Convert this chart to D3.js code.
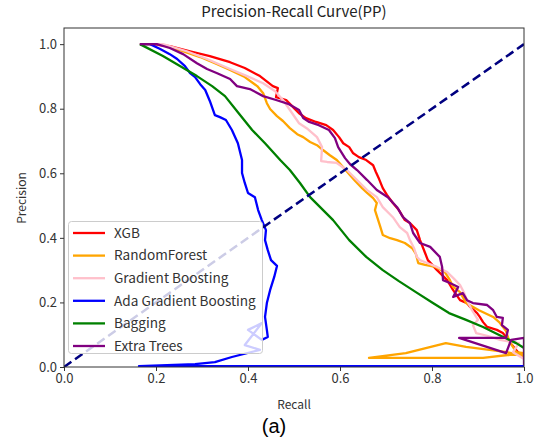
<!DOCTYPE html>
<html><head><meta charset="utf-8">
<script src="https://cdn.jsdelivr.net/npm/d3@7"></script>
<style>body{margin:0;background:#fff}svg{display:block}</style>
</head><body>
<script>
const seriesNames = ["XGB","RandomForest","Gradient Boosting","Ada Gradient Boosting","Bagging","Extra Trees"];
const seriesColors = ["red","orange","pink","blue","green","purple"];
const xTicks = [0,0.2,0.4,0.6,0.8,1.0];
const yTicks = [0,0.2,0.4,0.6,0.8,1.0];

const xgb = [[0.165,1.0],[0.187,1.0],[0.230,0.994],[0.274,0.978],[0.317,0.963],[0.361,0.944],[0.393,0.926],[0.426,0.901],[0.454,0.870],[0.465,0.864],[0.461,0.836],[0.483,0.827],[0.498,0.805],[0.511,0.786],[0.526,0.771],[0.548,0.759],[0.570,0.749],[0.585,0.734],[0.598,0.712],[0.607,0.693],[0.620,0.681],[0.628,0.663],[0.641,0.650],[0.657,0.641],[0.672,0.625],[0.678,0.604],[0.685,0.582],[0.693,0.554],[0.702,0.533],[0.715,0.508],[0.728,0.486],[0.741,0.455],[0.752,0.446],[0.767,0.424],[0.774,0.393],[0.785,0.353],[0.791,0.331],[0.811,0.300],[0.833,0.269],[0.846,0.238],[0.861,0.207],[0.876,0.198],[0.883,0.186],[0.898,0.167],[0.904,0.155],[0.911,0.139],[0.920,0.124],[0.941,0.115],[0.954,0.105],[0.963,0.090],[0.974,0.068],[0.987,0.046],[1.0,0.028]];
const randomForest = [[0.165,1.0],[0.209,1.0],[0.252,0.981],[0.296,0.960],[0.328,0.941],[0.361,0.920],[0.393,0.898],[0.420,0.870],[0.433,0.848],[0.441,0.817],[0.448,0.799],[0.463,0.777],[0.476,0.762],[0.491,0.740],[0.507,0.721],[0.520,0.712],[0.535,0.697],[0.550,0.687],[0.563,0.672],[0.578,0.656],[0.593,0.641],[0.607,0.619],[0.622,0.594],[0.633,0.576],[0.648,0.554],[0.659,0.539],[0.672,0.523],[0.680,0.508],[0.676,0.486],[0.687,0.437],[0.693,0.409],[0.709,0.399],[0.724,0.393],[0.741,0.384],[0.757,0.368],[0.765,0.350],[0.770,0.322],[0.785,0.316],[0.807,0.310],[0.828,0.294],[0.839,0.269],[0.846,0.248],[0.861,0.232],[0.874,0.198],[0.902,0.176],[0.933,0.155],[0.946,0.139],[0.961,0.111],[0.967,0.084],[0.976,0.062],[0.983,0.046],[1.0,0.043],[0.911,0.028],[0.663,0.028],[0.743,0.043],[0.830,0.074],[0.874,0.062],[0.963,0.046],[1.0,0.034]];
const gradientBoosting = [[0.165,1.0],[0.215,1.0],[0.267,0.978],[0.311,0.954],[0.361,0.923],[0.398,0.901],[0.433,0.879],[0.459,0.854],[0.476,0.827],[0.496,0.786],[0.511,0.755],[0.530,0.737],[0.550,0.712],[0.561,0.681],[0.559,0.638],[0.572,0.635],[0.593,0.632],[0.615,0.610],[0.637,0.579],[0.659,0.548],[0.680,0.526],[0.693,0.495],[0.715,0.464],[0.730,0.433],[0.746,0.415],[0.752,0.393],[0.761,0.368],[0.767,0.341],[0.774,0.331],[0.789,0.322],[0.811,0.310],[0.833,0.294],[0.846,0.276],[0.861,0.254],[0.870,0.229],[0.876,0.207],[0.887,0.176],[0.900,0.146],[0.889,0.130],[0.896,0.105],[0.922,0.096],[0.948,0.084],[0.989,0.074],[0.976,0.046],[1.0,0.025]];
const adaBoost = [[0.165,1.0],[0.187,1.0],[0.209,0.985],[0.230,0.969],[0.246,0.954],[0.263,0.932],[0.274,0.910],[0.285,0.898],[0.296,0.876],[0.307,0.858],[0.317,0.824],[0.328,0.780],[0.339,0.774],[0.352,0.765],[0.365,0.734],[0.378,0.693],[0.387,0.641],[0.387,0.601],[0.393,0.570],[0.400,0.539],[0.415,0.526],[0.422,0.486],[0.430,0.455],[0.439,0.424],[0.437,0.393],[0.443,0.362],[0.450,0.331],[0.463,0.313],[0.457,0.279],[0.448,0.238],[0.441,0.198],[0.437,0.155],[0.441,0.115],[0.443,0.093],[0.430,0.084],[0.400,0.115],[0.430,0.136],[0.393,0.068],[0.426,0.053],[0.365,0.031],[0.328,0.015],[0.285,0.009],[0.163,0.003],[1.0,0.003]];
const bagging = [[0.165,1.0],[0.215,0.963],[0.252,0.932],[0.289,0.901],[0.322,0.870],[0.350,0.839],[0.378,0.789],[0.409,0.734],[0.437,0.693],[0.470,0.641],[0.491,0.610],[0.513,0.570],[0.535,0.526],[0.585,0.455],[0.620,0.393],[0.657,0.341],[0.693,0.300],[0.728,0.266],[0.765,0.232],[0.802,0.198],[0.837,0.167],[0.874,0.146],[0.911,0.124],[0.946,0.099],[0.983,0.074],[1.0,0.059]];
const extraTrees = [[0.165,1.0],[0.202,1.0],[0.230,0.988],[0.259,0.969],[0.289,0.941],[0.311,0.923],[0.333,0.910],[0.361,0.892],[0.376,0.870],[0.404,0.861],[0.433,0.839],[0.461,0.827],[0.489,0.814],[0.511,0.796],[0.520,0.771],[0.533,0.759],[0.554,0.749],[0.576,0.734],[0.589,0.709],[0.596,0.681],[0.611,0.647],[0.622,0.628],[0.637,0.610],[0.659,0.579],[0.680,0.548],[0.704,0.526],[0.724,0.495],[0.737,0.464],[0.752,0.446],[0.759,0.415],[0.774,0.384],[0.796,0.372],[0.817,0.341],[0.822,0.310],[0.824,0.269],[0.839,0.260],[0.857,0.248],[0.846,0.217],[0.867,0.229],[0.876,0.207],[0.889,0.198],[0.920,0.192],[0.933,0.176],[0.941,0.155],[0.954,0.152],[0.952,0.130],[0.965,0.115],[0.961,0.090],[0.859,0.090],[0.961,0.043],[0.972,0.084],[1.0,0.090],[1.0,0.006]];
const diagonal = [[0,0],[1,1]];

const seriesData = [xgb, randomForest, gradientBoosting, adaBoost, bagging, extraTrees];

const W = 536, H = 443;
const font = "'Noto Sans CJK KR', 'Open Sans', sans-serif";
const svg = d3.select("body").append("svg").attr("width", W).attr("height", H);

const x = d3.scaleLinear().domain([0, 1]).range([64, 524]);
const y = d3.scaleLinear().domain([0, 1.05]).range([367, 28]);

const defs = svg.append("defs");
defs.append("clipPath").attr("id","clip").append("rect")
  .attr("x", 64).attr("y", 28).attr("width", 460).attr("height", 339);

const line = d3.line().x(d => x(d[0])).y(d => y(d[1]));
const plot = svg.append("g").attr("clip-path", "url(#clip)");

seriesData.forEach((s, i) => {
  plot.append("path").datum(s).attr("d", line)
    .attr("fill", "none").attr("stroke", seriesColors[i])
    .attr("stroke-width", 2.3).attr("stroke-linejoin", "round");
});
plot.append("path").datum(diagonal).attr("d", line)
  .attr("fill", "none").attr("stroke", "navy").attr("stroke-width", 2.5)
  .attr("stroke-dasharray", "9,4.5");

// axes
const xAxis = svg.append("g").attr("transform", "translate(0,367)")
  .call(d3.axisBottom(x).tickValues(xTicks).tickFormat(d3.format(".1f")).tickSizeOuter(0).tickSize(4).tickPadding(3));
const yAxis = svg.append("g").attr("transform", "translate(64,0)")
  .call(d3.axisLeft(y).tickValues(yTicks).tickFormat(d3.format(".1f")).tickSizeOuter(0).tickSize(4).tickPadding(3));
[xAxis, yAxis].forEach(a => {
  a.select(".domain").remove();
  a.selectAll("text").attr("font-family", font).attr("font-size", 13).attr("fill", "#333");
  a.selectAll("line").attr("stroke", "#333");
});

svg.append("rect").attr("x", 64).attr("y", 28).attr("width", 460).attr("height", 339)
  .attr("fill", "none").attr("stroke", "#333").attr("stroke-width", 1);

// legend
const lg = svg.append("g");
lg.append("rect").attr("x", 68.5).attr("y", 221.5).attr("width", 194).attr("height", 132)
  .attr("rx", 3).attr("fill", "white").attr("fill-opacity", 0.8).attr("stroke", "#ccc").attr("stroke-width", 1);
seriesNames.forEach((n, i) => {
  const yy = 233 + i * 22.6;
  lg.append("line").attr("x1", 73).attr("x2", 105).attr("y1", yy).attr("y2", yy)
    .attr("stroke", seriesColors[i]).attr("stroke-width", 2.3);
  lg.append("text").attr("x", 114).attr("y", yy).attr("dy", "0.35em")
    .attr("font-family", font).attr("font-size", 13.6).attr("fill", "#333").text(n);
});

// titles
svg.append("text").attr("x", 294).attr("y", 17).attr("text-anchor", "middle")
  .attr("font-family", font).attr("font-size", 15).attr("fill", "#222").text("Precision-Recall Curve(PP)");
svg.append("text").attr("x", 294).attr("y", 409).attr("text-anchor", "middle")
  .attr("font-family", font).attr("font-size", 12).attr("fill", "#333").text("Recall");
svg.append("text").attr("transform", "translate(26,198) rotate(-90)").attr("text-anchor", "middle")
  .attr("font-family", font).attr("font-size", 12).attr("fill", "#333").text("Precision");
svg.append("text").attr("x", 274).attr("y", 433).attr("text-anchor", "middle")
  .attr("font-family", "'Liberation Sans', Arial, sans-serif").attr("font-size", 20).attr("fill", "#000").text("(a)");
</script>
</body></html>
